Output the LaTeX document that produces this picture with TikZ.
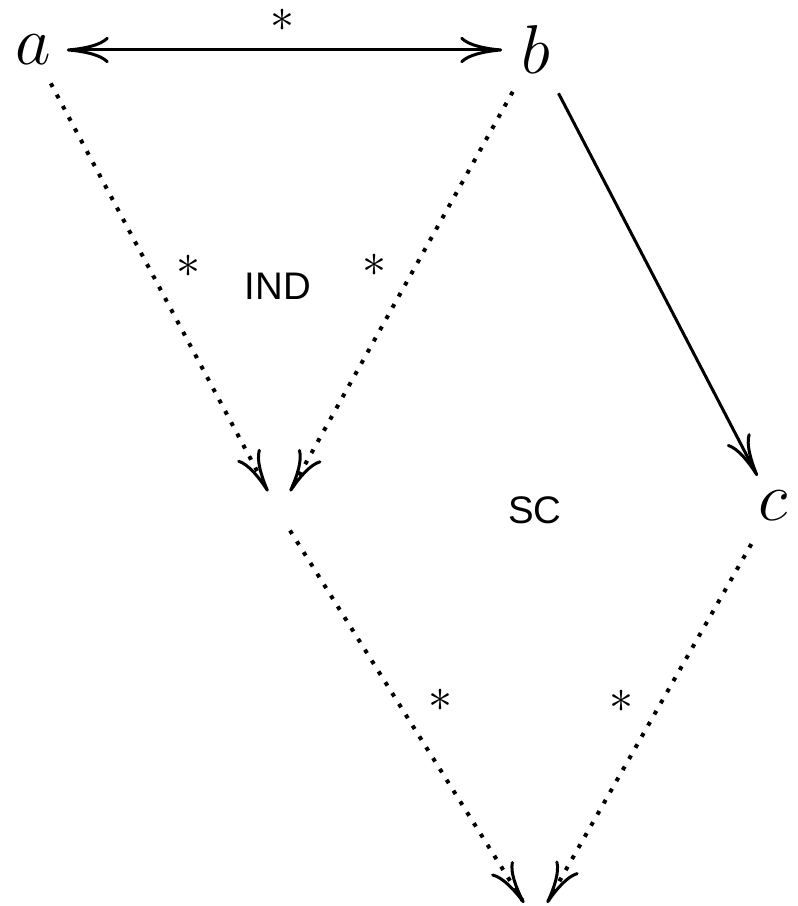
\documentclass[tikz,border=0pt]{standalone}
\usepackage{fontspec}
\newfontfamily\regionfont{Liberation Sans}
\usetikzlibrary{arrows.meta}
\begin{document}
\begin{tikzpicture}[x=0.25pt,y=-0.25pt,
  vert/.style={circle,inner sep=0pt,minimum size=16.5pt,font=\fontsize{17}{20}\selectfont},
  hole/.style={rectangle,inner sep=0pt,outer sep=0pt},
  solidarr/.style={line width=0.75pt,-{To[length=10.5pt,width=6.6pt]}},
  dotarr/.style={line width=1pt,dash pattern=on 1pt off 2.2pt,-{To[length=10.5pt,width=6.6pt,line width=0.75pt]}},
  star/.style={inner sep=0pt,anchor=base,text height=4pt,text depth=0pt,font=\fontsize{12}{14}\selectfont},
  region/.style={inner sep=0pt,font=\regionfont\fontsize{9.6}{11}\selectfont}]
  \useasboundingbox (0,0) rectangle (798,906);
  % vertices
  \node[vert] (a) at (33,50) {$a$};
  \node[vert] (b) at (536,50) {$b$};
  \node[vert] (c) at (773,506) {$c$};
  \node[hole,minimum width=5.5pt,minimum height=9.75pt] (m) at (279,511) {};
  \node[hole,minimum width=5.75pt,minimum height=0pt] (n) at (535.5,903) {};
  % connectors
  \draw[line width=0.75pt,{To[length=10.5pt,width=6.6pt]}-{To[length=10.5pt,width=6.6pt]}] (a) -- (b);
  \draw[dotarr,shorten <=1pt] (a) -- (m.north west);
  \draw[dotarr,shorten <=3.5pt] (b) -- (m.north east);
  \draw[solidarr,shorten <=3.75pt] (b) -- (c);
  \draw[dotarr] (m.south east) -- (n.north west);
  \draw[dotarr,shorten <=2.5pt] (c) -- (n.north east);
  % labels
  \node[star] (s1) at (282.5,32) {$\ast$};
  \node[star] (s2) at (188,278) {$\ast$};
  \node[star] (s3) at (374,277) {$\ast$};
  \node[star] (s4) at (440.5,711) {$\ast$};
  \node[star] (s5) at (621.5,712) {$\ast$};
  \node[region] (ind) at (278,286) {IND};
  \node[region] (sc) at (535,510) {SC};
\end{tikzpicture}
\end{document}
